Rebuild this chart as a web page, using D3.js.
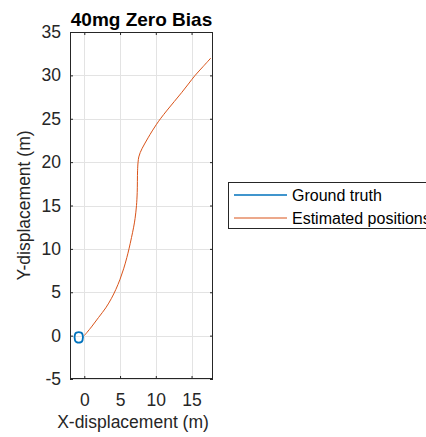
<!DOCTYPE html>
<html><head><meta charset="utf-8">
<script src="https://cdn.jsdelivr.net/npm/d3@7"></script>
<style>body{margin:0;background:#fff;overflow:hidden}</style>
</head><body><script>
// ---- data ----
const xTicks = [0, 5, 10, 15];
const yTicks = [-5, 0, 5, 10, 15, 20, 25, 30, 35];
const xDomain = [-2, 18];
const yDomain = [-5, 35];
const seriesNames = ["Ground truth", "Estimated positions"];
// Ground truth: small closed loop near origin
const truthX = [-1.1, -0.45, -0.25, -0.25, -0.45, -1.1, -1.3, -1.3];
const truthY = [0.35, 0.35, 0.15, -0.55, -0.75, -0.75, -0.55, 0.15];
// Estimated positions
const estX = [0, 1.0, 2.0, 3.0, 3.8, 4.4, 5.0, 5.5, 5.95, 6.25, 6.6, 6.9, 7.1, 7.3, 7.4, 7.45, 7.52, 7.62, 7.82, 8.1, 8.5, 8.92, 9.5, 10.05, 10.65, 11.6, 12.6, 13.6, 14.55, 15.5, 16.6, 17.7];
const estY = [0, 1.0, 2.1, 3.2, 4.3, 5.3, 6.5, 7.7, 9.0, 10.0, 11.3, 12.5, 13.5, 15.0, 16.5, 19.0, 20.0, 20.6, 21.1, 21.6, 22.2, 22.8, 23.6, 24.3, 25.0, 26.0, 27.0, 28.0, 29.0, 30.0, 31.0, 32.0];
const colors = ["#0072BD", "#D95319"];

// ---- layout ----
const W = 426, H = 437;
const L = 70, T = 32, R = 213, B = 379;
const svg = d3.select("body").append("svg").attr("width", W).attr("height", H)
  .style("font-family", "'Liberation Sans', Arial, sans-serif");
svg.append("rect").attr("width", W).attr("height", H).attr("fill", "#fff");

const x = d3.scaleLinear().domain(xDomain).range([L, R]);
const y = d3.scaleLinear().domain(yDomain).range([B, T]);

// grid
const grid = svg.append("g").attr("stroke", "#e3e3e3").attr("stroke-width", 1);
grid.selectAll("line.gx").data(xTicks).join("line")
  .attr("x1", d => Math.round(x(d)) + 0.5).attr("x2", d => Math.round(x(d)) + 0.5)
  .attr("y1", T).attr("y2", B);
grid.selectAll("line.gy").data(yTicks).join("line")
  .attr("y1", d => Math.round(y(d)) + 0.5).attr("y2", d => Math.round(y(d)) + 0.5)
  .attr("x1", L).attr("x2", R);

// data lines
svg.append("clipPath").attr("id", "pc").append("rect")
  .attr("x", L).attr("y", T).attr("width", R - L).attr("height", B - T);
const plot = svg.append("g").attr("clip-path", "url(#pc)");
const estData = estX.map((v, i) => [v, estY[i]]);
const truthData = truthX.map((v, i) => [v, truthY[i]]);
plot.append("path").datum(estData)
  .attr("d", d3.line().x(d => x(d[0])).y(d => y(d[1])).curve(d3.curveCatmullRom))
  .attr("fill", "none").attr("stroke", colors[1]).attr("stroke-width", 1);
plot.append("path").datum(truthData)
  .attr("d", d3.line().x(d => x(d[0])).y(d => y(d[1])).curve(d3.curveCatmullRomClosed))
  .attr("fill", "none").attr("stroke", colors[0]).attr("stroke-width", 1.8);

// axes
const axisColor = "#262626";
const fmt = d => String(d);
function styleAxis(g) {
  g.select(".domain").remove();
  g.selectAll(".tick line").attr("stroke", axisColor);
  g.selectAll(".tick text").attr("fill", axisColor).attr("font-size", 17.5);
}
svg.append("g").attr("transform", `translate(0,${B})`)
  .call(d3.axisBottom(x).tickValues(xTicks).tickSize(-3).tickPadding(15).tickFormat(fmt))
  .call(styleAxis);
svg.append("g").attr("transform", `translate(${L},0)`)
  .call(d3.axisLeft(y).tickValues(yTicks).tickSize(-3).tickPadding(9).tickFormat(fmt))
  .call(styleAxis);
svg.append("g").attr("transform", `translate(0,${T})`)
  .call(d3.axisTop(x).tickValues(xTicks).tickSize(-3).tickFormat(""))
  .call(styleAxis);
svg.append("g").attr("transform", `translate(${R},0)`)
  .call(d3.axisRight(y).tickValues(yTicks).tickSize(-3).tickFormat(""))
  .call(styleAxis);
svg.append("rect").attr("x", L + 0.5).attr("y", T + 0.5).attr("width", R - L - 1).attr("height", B - T - 1)
  .attr("fill", "none").attr("stroke", axisColor).attr("stroke-width", 1);

// title & labels
svg.append("text").attr("x", (L + R) / 2).attr("y", 26).attr("text-anchor", "middle")
  .attr("font-size", 19).attr("font-weight", "bold").attr("fill", "#000").text("40mg Zero Bias");
svg.append("text").attr("x", 133).attr("y", 428).attr("text-anchor", "middle")
  .attr("font-size", 17.5).attr("fill", axisColor).text("X-displacement (m)");
svg.append("text").attr("transform", `translate(30,${(T + B) / 2}) rotate(-90)`).attr("text-anchor", "middle")
  .attr("font-size", 17.5).attr("fill", axisColor).text("Y-displacement (m)");

// legend
const lg = svg.append("g");
lg.append("rect").attr("x", 228.5).attr("y", 182.5).attr("width", 220).attr("height", 46)
  .attr("fill", "#fff").attr("stroke", axisColor).attr("stroke-width", 1);
seriesNames.forEach((name, i) => {
  const yy = 195 + i * 23;
  lg.append("line").attr("x1", 234).attr("x2", 287).attr("y1", yy).attr("y2", yy)
    .attr("stroke", colors[i]).attr("stroke-width", i === 0 ? 1.6 : 1);
  lg.append("text").attr("x", 292).attr("y", yy + 5.5).attr("font-size", 16)
    .attr("fill", "#000").text(name);
});
</script></body></html>
